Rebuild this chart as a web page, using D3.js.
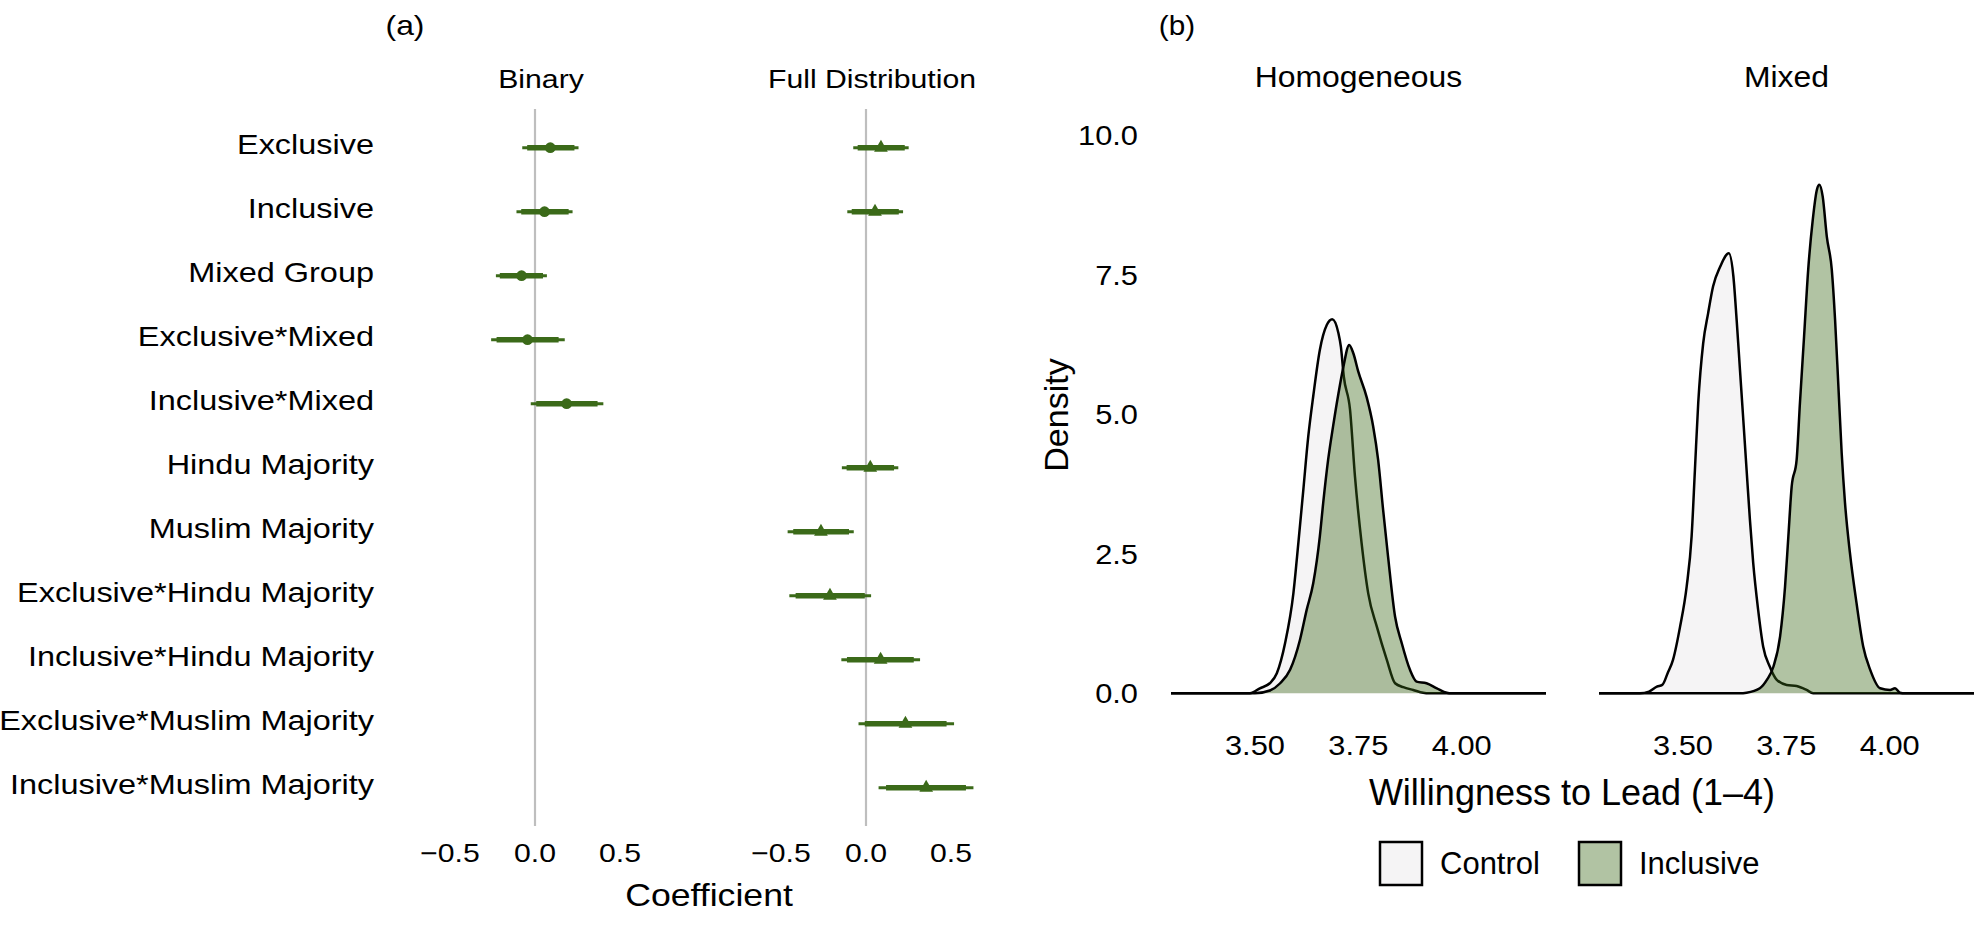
<!DOCTYPE html>
<html>
<head>
<meta charset="utf-8">
<script src="https://cdn.jsdelivr.net/npm/d3@7"></script>
<style>
  html, body { margin: 0; padding: 0; background: #fff; }
  svg { display: block; }
  text { font-family: 'Liberation Sans', Arial, Helvetica, sans-serif; fill: #000; }
</style>
</head>
<body>
<svg id="chart" width="1974" height="926"></svg>
<script>
// ---------------- DATA ----------------
const categories = [
  "Exclusive", "Inclusive", "Mixed Group", "Exclusive*Mixed", "Inclusive*Mixed",
  "Hindu Majority", "Muslim Majority", "Exclusive*Hindu Majority",
  "Inclusive*Hindu Majority", "Exclusive*Muslim Majority", "Inclusive*Muslim Majority"
];
const coefTicks = [-0.5, 0, 0.5];

// Binary model (first five terms)
const binaryTerms  = ["Exclusive", "Inclusive", "Mixed Group", "Exclusive*Mixed", "Inclusive*Mixed"];
const binaryEst    = [0.090, 0.056, -0.079, -0.044, 0.186];
const binaryInnerLo = [-0.046, -0.081, -0.207, -0.226, 0.007];
const binaryInnerHi = [0.232, 0.198, 0.047, 0.139, 0.368];
const binaryOuterLo = [-0.075, -0.109, -0.230, -0.258, -0.025];
const binaryOuterHi = [0.256, 0.221, 0.070, 0.175, 0.402];

// Full distribution model
const fullTerms  = ["Exclusive", "Inclusive", "Hindu Majority", "Muslim Majority",
  "Exclusive*Hindu Majority", "Inclusive*Hindu Majority", "Exclusive*Muslim Majority", "Inclusive*Muslim Majority"];
const fullEst     = [0.088, 0.053, 0.025, -0.265, -0.212, 0.086, 0.232, 0.354];
const fullInnerLo = [-0.049, -0.084, -0.114, -0.428, -0.414, -0.112, -0.007, 0.118];
const fullInnerHi = [0.228, 0.193, 0.165, -0.100, -0.007, 0.281, 0.474, 0.588];
const fullOuterLo = [-0.075, -0.110, -0.142, -0.461, -0.451, -0.145, -0.044, 0.074];
const fullOuterHi = [0.251, 0.218, 0.190, -0.072, 0.030, 0.318, 0.518, 0.632];

// Density panel (b)
const densityPanels = ["Homogeneous", "Mixed"];
const densityGroups = ["Control", "Inclusive"];
const densityXDomain = [3.297, 4.204];
const densityXTicks = [3.5, 3.75, 4.0];
const densityYTicks = [0, 2.5, 5, 7.5, 10];

const homControl = [
  [3.488,0],[3.512,0.09],[3.536,0.18],[3.553,0.36],[3.573,0.90],[3.593,1.79],[3.605,2.69],
  [3.617,3.64],[3.629,4.60],[3.641,5.32],[3.657,6.15],[3.674,6.60],[3.687,6.70],[3.702,6.45],
  [3.708,6.20],[3.715,5.67],[3.730,5.08],[3.742,3.88],[3.758,2.69],[3.774,1.79],[3.795,1.19],
  [3.819,0.60],[3.839,0.18],[3.859,0.11],[3.883,0.06],[3.907,0.01],[3.920,0]
];
const homInclusive = [
  [3.500,0],[3.536,0.05],[3.561,0.18],[3.585,0.42],[3.609,0.96],[3.625,1.49],[3.641,1.97],
  [3.657,2.81],[3.665,3.40],[3.677,4.18],[3.689,4.78],[3.702,5.37],[3.714,5.85],[3.728,6.24],
  [3.738,6.09],[3.750,5.76],[3.770,5.31],[3.786,4.78],[3.798,4.18],[3.810,3.29],[3.822,2.45],
  [3.839,1.37],[3.855,0.90],[3.875,0.42],[3.891,0.21],[3.915,0.18],[3.940,0.09],[3.964,0.01],[3.975,0]
];
const mixControl = [
  [3.396,0],[3.418,0.03],[3.437,0.12],[3.450,0.15],[3.463,0.36],[3.476,0.60],[3.493,1.19],
  [3.509,1.91],[3.521,2.81],[3.529,4.00],[3.537,5.20],[3.549,6.27],[3.561,6.81],[3.573,7.29],
  [3.590,7.64],[3.611,7.88],[3.622,7.47],[3.630,6.68],[3.638,5.79],[3.646,4.90],[3.654,4.00],
  [3.662,3.11],[3.670,2.33],[3.682,1.49],[3.694,0.84],[3.710,0.48],[3.727,0.24],[3.751,0.15],
  [3.775,0.13],[3.799,0.06],[3.815,0]
];
const mixInclusive = [
  [3.637,0],[3.654,0.01],[3.686,0.09],[3.703,0.24],[3.719,0.48],[3.735,1.02],[3.747,1.91],
  [3.755,2.81],[3.763,3.70],[3.775,4.18],[3.783,5.20],[3.793,6.39],[3.803,7.59],[3.814,8.48],
  [3.824,9.02],[3.830,9.11],[3.838,8.90],[3.848,8.18],[3.860,7.59],[3.868,6.69],[3.876,5.50],
  [3.884,4.30],[3.892,3.41],[3.904,2.51],[3.920,1.61],[3.936,0.84],[3.953,0.42],[3.977,0.09],
  [4.001,0.06],[4.013,0.09],[4.025,0.01],[4.037,0]
];

// ---------------- STYLE ----------------
const GREEN = "#3b6a19";
const CONTROL_FILL = "#f5f4f5";
const INCL_FILL = "rgba(59,106,25,0.4)";

const svg = d3.select("#chart");

function addText(sel, x, y, s, size, anchor, sx, rot) {
  const t = sel.append("text")
    .attr("transform", `translate(${x},${y})` + (rot ? ` rotate(${rot})` : "") + ` scale(${sx},1)`)
    .attr("text-anchor", anchor)
    .attr("font-size", size)
    .text(s);
  return t;
}

// ================= PANEL (a) =================
const SXA = 1.18;
const yCat = d3.scalePoint().domain(categories).range([147.7, 787.7]);
const xBinary = d3.scaleLinear().domain([-0.5, 0.5]).range([450, 620]);
const xFull = d3.scaleLinear().domain([-0.5, 0.5]).range([781, 951]);
const fmtCoef = d3.format(".1f");

addText(svg, 405, 35, "(a)", 27, "middle", SXA);

// category labels
categories.forEach(c => addText(svg, 374, yCat(c) + 6, c, 27.5, "end", SXA));

function drawCoefPanel(title, xs, terms, est, inLo, inHi, outLo, outHi, shape) {
  const g = svg.append("g");
  const cx = (xs.range()[0] + xs.range()[1]) / 2 + 6;
  addText(g, cx, 88, title, 25.6, "middle", SXA);
  // zero reference line
  g.append("line")
    .attr("x1", xs(0)).attr("x2", xs(0))
    .attr("y1", 109).attr("y2", 826)
    .attr("stroke", "#bebebe").attr("stroke-width", 2.2);
  // ticks
  coefTicks.forEach(t => addText(g, xs(t), 862, fmtCoef(t), 25.6, "middle", SXA));
  terms.forEach((term, i) => {
    const y = yCat(term);
    g.append("line").attr("x1", xs(outLo[i])).attr("x2", xs(outHi[i]))
      .attr("y1", y).attr("y2", y).attr("stroke", GREEN).attr("stroke-width", 3);
    g.append("line").attr("x1", xs(inLo[i])).attr("x2", xs(inHi[i]))
      .attr("y1", y).attr("y2", y).attr("stroke", GREEN).attr("stroke-width", 5.6);
    if (shape === "circle") {
      g.append("circle").attr("cx", xs(est[i])).attr("cy", y).attr("r", 5.4)
        .attr("fill", GREEN);
    } else {
      g.append("path")
        .attr("d", d3.symbol().type(d3.symbolTriangle).size(82)())
        .attr("transform", `translate(${xs(est[i])},${y})`)
        .attr("fill", GREEN);
    }
  });
}
drawCoefPanel("Binary", xBinary, binaryTerms, binaryEst, binaryInnerLo, binaryInnerHi, binaryOuterLo, binaryOuterHi, "circle");
drawCoefPanel("Full Distribution", xFull, fullTerms, fullEst, fullInnerLo, fullInnerHi, fullOuterLo, fullOuterHi, "triangle");

addText(svg, 709, 906, "Coefficient", 31, "middle", 1.15);

// ================= PANEL (b) =================
const SXB = 1.1;
addText(svg, 1177, 35, "(b)", 27, "middle", SXB);

const yDen = d3.scaleLinear().domain([0, 10]).range([693.3, 135]);
const panelRanges = { "Homogeneous": [1171, 1546], "Mixed": [1599, 1974] };
const densityData = {
  "Homogeneous": { "Control": homControl, "Inclusive": homInclusive },
  "Mixed": { "Control": mixControl, "Inclusive": mixInclusive }
};
const fills = { "Control": CONTROL_FILL, "Inclusive": INCL_FILL };
const fmtY = d3.format(".1f");
const fmtX = d3.format(".2f");

// y tick labels
densityYTicks.forEach(t => addText(svg, 1138, yDen(t) + 10, fmtY(t), 28, "end", SXB));
addText(svg, 1068, 415, "Density", 34, "middle", 1.0, -90);

densityPanels.forEach(p => {
  const xs = d3.scaleLinear().domain(densityXDomain).range(panelRanges[p]);
  const g = svg.append("g");
  addText(g, (panelRanges[p][0] + panelRanges[p][1]) / 2, 87, p, 29, "middle", SXB);
  densityGroups.forEach(grp => {
    const pts = [[densityXDomain[0], 0], ...densityData[p][grp], [densityXDomain[1], 0]];
    const area = d3.area().x(d => xs(d[0])).y0(yDen(0)).y1(d => yDen(d[1])).curve(d3.curveMonotoneX);
    const line = d3.line().x(d => xs(d[0])).y(d => yDen(d[1])).curve(d3.curveMonotoneX);
    g.append("path").attr("d", area(pts)).attr("fill", fills[grp]).attr("stroke", "none");
    g.append("path").attr("d", line(pts)).attr("fill", "none")
      .attr("stroke", "#000").attr("stroke-width", 2.5).attr("stroke-linejoin", "round");
  });
  densityXTicks.forEach(t => addText(g, xs(t), 755, fmtX(t), 28, "middle", SXB));
});

addText(svg, 1572, 805, "Willingness to Lead (1\u20134)", 36, "middle", 1.0);

// legend
const legendItems = [
  { key: "Control", box: 1380, text: 1440 },
  { key: "Inclusive", box: 1579, text: 1639 }
];
legendItems.forEach(it => {
  svg.append("rect").attr("x", it.box).attr("y", 842).attr("width", 42).attr("height", 43)
    .attr("fill", fills[it.key]).attr("stroke", "#000").attr("stroke-width", 2.5);
  addText(svg, it.text, 874, it.key, 31, "start", 1.0);
});
</script>
</body>
</html>
